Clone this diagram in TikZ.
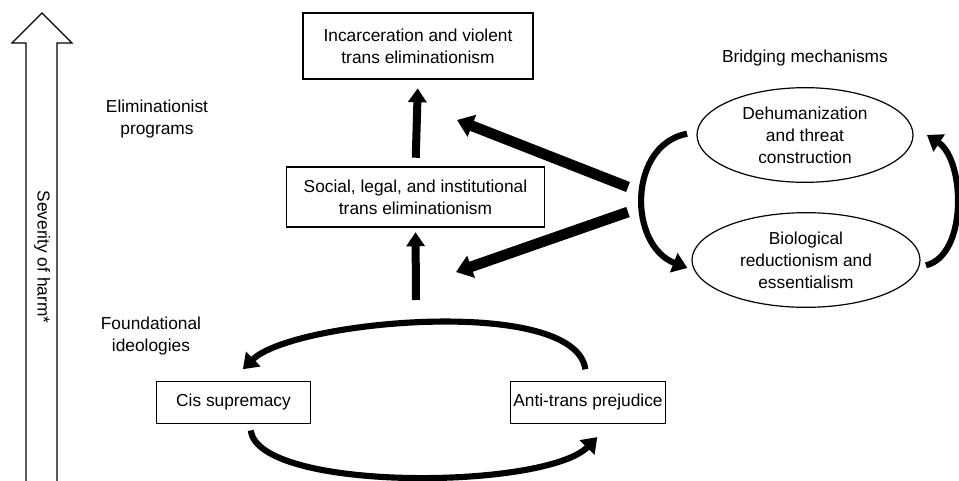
\documentclass[tikz,border=0pt]{standalone}
\usepackage{fontspec}
\setmainfont{Liberation Sans}
\usetikzlibrary{arrows.meta,positioning,shapes.geometric,calc}

\begin{document}
\begin{tikzpicture}[
    x=0.75pt, y=-0.75pt,
    box/.style={draw, line width=0.9pt, align=center, inner sep=2pt,
                font=\fontsize{13}{16.5}\selectfont},
    oval/.style={ellipse, draw, line width=0.9pt, align=center,
                 inner sep=0pt, font=\fontsize{13}{16.5}\selectfont},
    tag/.style={align=center, font=\fontsize{13}{16.5}\selectfont},
    uparrow/.style={-{Triangle[length=10.5pt, width=13.5pt]}, line width=6pt},
    fatarrow/.style={-{Triangle[length=12pt, width=17pt]}, line width=8pt},
    looparrow/.style={-{Triangle[length=11pt, width=15pt]}, line width=4.6pt},
  ]
  \useasboundingbox (0,0) rectangle (959,481);

  % Severity scale
  \draw[line width=0.8pt] (26,481) -- (26,43) -- (12,43) -- (42,13)
    -- (72,43) -- (57,43) -- (57,481);
  \node[tag, rotate=-90] at (42,257) (sev) {Severity of harm*};

  % Level labels
  \node[tag] at (157,119) (elim) {Eliminationist\\programs};
  \node[tag] at (151,336) (found) {Foundational\\ideologies};
  \node[tag] at (805,58) (bridge) {Bridging mechanisms};

  % Eliminationist programs
  \node[box, minimum width=172.5pt, minimum height=49.5pt] at (418,46) (incar)
    {Incarceration and violent\\trans eliminationism};
  \node[box, minimum width=193pt, minimum height=45pt] at (415.5,197) (social)
    {Social, legal, and institutional\\trans eliminationism};

  % Foundational ideologies
  \node[box, minimum width=115pt, minimum height=31pt] at (233.5,402.5) (cis)
    {Cis supremacy};
  \node[box, minimum width=114pt, minimum height=31pt] at (588,402.5) (anti)
    {Anti-trans prejudice};

  % Bridging mechanisms
  \node[oval, minimum width=162pt, minimum height=71pt] at (805,135) (dehum)
    {Dehumanization\\and threat\\construction};
  \node[oval, minimum width=171pt, minimum height=71pt] at (806,260) (bio)
    {Biological\\reductionism and\\essentialism};

  % Free ends
  \coordinate (fdn) at (416,300);
  \coordinate (brtop) at (628,187);
  \coordinate (brbot) at (628,212);
  \coordinate (uptip) at (457,120);
  \coordinate (lowtip) at (456,272);

  % Arrows
  \draw[uparrow, shorten <=6.5pt, shorten >=6.5pt] (social.north) -- (incar.south);
  \draw[uparrow, shorten >=3.5pt] (fdn) -- (social.south);
  \draw[fatarrow] (brtop) -- (uptip);
  \draw[fatarrow] (brbot) -- (lowtip);

  \draw[looparrow] ([xshift=-2pt, yshift=9pt]anti.north)
    .. controls (575,295) and (293,320) .. ([xshift=7pt, yshift=9pt]cis.north);
  \draw[looparrow] ([xshift=13pt, yshift=-5pt]cis.south)
    .. controls (258,492) and (545,490) .. ([xshift=7pt, yshift=-10pt]anti.south);
  \draw[looparrow] ([xshift=-7pt, yshift=1pt]dehum.west)
    .. controls (628,145) and (628,245) .. ([xshift=-3pt, yshift=-6pt]bio.west);
  \draw[looparrow] ([xshift=4pt, yshift=-4pt]bio.east)
    .. controls (968,255) and (965,160) .. ([xshift=10pt]dehum.east);

\end{tikzpicture}
\end{document}
